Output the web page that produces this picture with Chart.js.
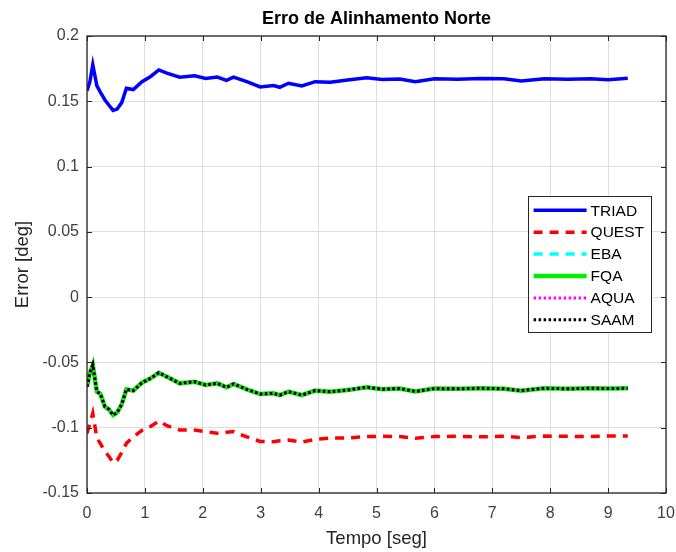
<!DOCTYPE html>
<html lang="pt">
<head>
<meta charset="utf-8">
<title>Erro de Alinhamento Norte</title>
<script src="https://cdn.jsdelivr.net/npm/chart.js@4.4.1/dist/chart.umd.min.js"></script>
<style>
  html, body { margin: 0; padding: 0; background: #fff; }
  canvas { display: block; }
</style>
</head>
<body>
<canvas id="myChart" width="676" height="552"></canvas>
<script>
// Values (time in s, error in deg)
const tempo = [0, 0.05, 0.1, 0.17, 0.23, 0.31, 0.38, 0.45, 0.52, 0.6, 0.68, 0.8, 0.95, 1.1, 1.24, 1.38, 1.6, 1.86, 2.05, 2.25,
  2.41, 2.53, 2.76, 2.99, 3.22, 3.33, 3.48, 3.71, 3.94, 4.2, 4.5, 4.83, 5.1, 5.4, 5.67, 6.0, 6.4, 6.8, 7.2, 7.5,
  7.9, 8.3, 8.7, 9.0, 9.34];

const triad = [0.158, 0.165, 0.178, 0.162, 0.157, 0.151, 0.147, 0.143, 0.144, 0.149, 0.160, 0.159, 0.165, 0.169, 0.174, 0.1715, 0.1685, 0.1695, 0.1675, 0.1685,
  0.166, 0.1685, 0.165, 0.161, 0.162, 0.1607, 0.1638, 0.1617, 0.165, 0.1645, 0.1663, 0.168, 0.1667, 0.167, 0.165, 0.1672, 0.1668, 0.1675, 0.1672, 0.1656,
  0.1672, 0.1668, 0.1672, 0.1665, 0.1676];

const quest = [-0.1043, -0.097, -0.089, -0.108, -0.112, -0.1184, -0.122, -0.1268, -0.125, -0.119, -0.112, -0.107, -0.102, -0.099, -0.0949, -0.0985, -0.1017, -0.1017, -0.103, -0.1043,
  -0.1035, -0.103, -0.107, -0.1105, -0.1107, -0.110, -0.1095, -0.111, -0.1089, -0.108, -0.1078, -0.1068, -0.1066, -0.1068, -0.108, -0.1068, -0.1066, -0.107, -0.1066, -0.1075,
  -0.1064, -0.1066, -0.1068, -0.1064, -0.1064];

const fqa = [-0.0686, -0.058, -0.052, -0.0724, -0.074, -0.0839, -0.086, -0.0903, -0.0885, -0.082, -0.0706, -0.0716, -0.0655, -0.0622, -0.0579, -0.061, -0.066, -0.0648, -0.0673, -0.066,
  -0.069, -0.0665, -0.0706, -0.0742, -0.0737, -0.075, -0.0724, -0.075, -0.0716, -0.0724, -0.0712, -0.069, -0.0705, -0.070, -0.0722, -0.070, -0.0702, -0.0698, -0.0702, -0.0716,
  -0.0698, -0.0702, -0.0698, -0.070, -0.0698];

// EBA, AQUA and SAAM sit on top of FQA in the figure
const eba = fqa.slice();
const aqua = fqa.slice();
const saam = fqa.slice();

const xTicks = [0, 1, 2, 3, 4, 5, 6, 7, 8, 9, 10];
const yTicks = [-0.15, -0.1, -0.05, 0, 0.05, 0.1, 0.15, 0.2];

const FONT = "'Liberation Sans', Arial, Helvetica, sans-serif";

function toPoints(values) {
  return tempo.map((t, i) => ({ x: t, y: values[i] }));
}

// MATLAB style box, inward ticks, title and legend
const matlabAxes = {
  id: 'matlabAxes',
  afterDatasetsDraw(chart) {
    const { ctx, chartArea: a, scales: { x, y } } = chart;
    ctx.save();

    ctx.strokeStyle = '#262626';
    ctx.lineWidth = 1;
    ctx.beginPath();
    x.ticks.forEach(t => {
      const px = Math.round(x.getPixelForValue(t.value)) + 0.5;
      ctx.moveTo(px, a.bottom); ctx.lineTo(px, a.bottom - 5);
      ctx.moveTo(px, a.top); ctx.lineTo(px, a.top + 5);
    });
    y.ticks.forEach(t => {
      const py = Math.round(y.getPixelForValue(t.value)) + 0.5;
      ctx.moveTo(a.left, py); ctx.lineTo(a.left + 5, py);
      ctx.moveTo(a.right, py); ctx.lineTo(a.right - 5, py);
    });
    ctx.stroke();

    ctx.lineWidth = 1.3;
    ctx.strokeRect(a.left, a.top, a.right - a.left, a.bottom - a.top);

    // title
    ctx.fillStyle = '#000';
    ctx.font = 'bold 18px ' + FONT;
    ctx.textAlign = 'center';
    ctx.textBaseline = 'middle';
    ctx.fillText('Erro de Alinhamento Norte', (a.left + a.right) / 2, 19);

    // legend (east)
    const sets = chart.data.datasets;
    ctx.font = '15.5px ' + FONT;
    const textW = Math.max(...sets.map(d => ctx.measureText(d.label).width));
    const rowH = 21.9, lineLen = 53;
    const boxW = 6 + lineLen + 4 + textW + 7;
    const boxH = rowH * sets.length + 5;
    const bx = a.right - 15 - boxW;
    const by = (a.top + a.bottom) / 2 - boxH / 2;
    ctx.fillStyle = '#fff';
    ctx.fillRect(bx, by, boxW, boxH);
    ctx.strokeStyle = '#262626';
    ctx.lineWidth = 1;
    ctx.strokeRect(Math.round(bx) + 0.5, Math.round(by) + 0.5, Math.round(boxW), Math.round(boxH));
    sets.forEach((d, i) => {
      const cy = by + 14 + i * rowH;
      ctx.beginPath();
      ctx.setLineDash(d.borderDash || []);
      ctx.strokeStyle = d.borderColor;
      ctx.lineWidth = d.borderWidth;
      ctx.moveTo(bx + 6, cy);
      ctx.lineTo(bx + 6 + lineLen, cy);
      ctx.stroke();
      ctx.setLineDash([]);
      ctx.fillStyle = '#000';
      ctx.textAlign = 'left';
      ctx.fillText(d.label, bx + 6 + lineLen + 4, cy + 1);
    });

    ctx.restore();
  }
};

const ctx = document.getElementById('myChart').getContext('2d');

const myChart = new Chart(ctx, {
  type: 'line',
  data: {
    datasets: [
      { label: 'TRIAD', data: toPoints(triad), borderColor: '#0000ff', borderWidth: 3.5, order: 5 },
      { label: 'QUEST', data: toPoints(quest), borderColor: '#ff0000', borderWidth: 3.5, borderDash: [9, 7], order: 4 },
      { label: 'EBA', data: toPoints(eba), borderColor: '#00ffff', borderWidth: 3.5, borderDash: [9, 7], order: 3 },
      { label: 'FQA', data: toPoints(fqa), borderColor: '#00ee00', borderWidth: 4.5, order: 2 },
      { label: 'AQUA', data: toPoints(aqua), borderColor: '#ff00ff', borderWidth: 3, borderDash: [2.5, 2.5], order: 1 },
      { label: 'SAAM', data: toPoints(saam), borderColor: '#000000', borderWidth: 3, borderDash: [2.5, 2.5], order: 0 }
    ]
  },
  options: {
    responsive: false,
    animation: false,
    layout: { padding: { top: 36, right: 10, left: 0, bottom: 0 } },
    elements: { point: { radius: 0 }, line: { tension: 0, fill: false } },
    plugins: {
      legend: { display: false },
      title: { display: false },
      tooltip: { enabled: false }
    },
    scales: {
      x: {
        type: 'linear',
        min: 0,
        max: 10,
        afterBuildTicks: s => { s.ticks = xTicks.map(v => ({ value: v })); },
        afterFit: s => { s.height = 59; s.paddingLeft = 0; s.paddingRight = 10; },
        ticks: { color: '#404040', font: { family: FONT, size: 16 }, padding: 11, maxRotation: 0 },
        grid: { color: '#dedede', drawTicks: false },
        border: { display: false },
        title: { display: true, text: 'Tempo [seg]', color: '#262626', font: { family: FONT, size: 18.5 }, padding: { top: 0, bottom: 2 } }
      },
      y: {
        type: 'linear',
        min: -0.15,
        max: 0.2,
        afterBuildTicks: s => { s.ticks = yTicks.map(v => ({ value: v })); },
        afterFit: s => { s.width = 87; },
        ticks: { color: '#404040', font: { family: FONT, size: 16 }, padding: 8, callback: v => String(v) },
        grid: { color: '#dedede', drawTicks: false },
        border: { display: false },
        title: { display: true, text: 'Error [deg]', color: '#262626', font: { family: FONT, size: 18.5 }, padding: { top: 12, bottom: 0 } }
      }
    }
  },
  plugins: [matlabAxes]
});
</script>
</body>
</html>
